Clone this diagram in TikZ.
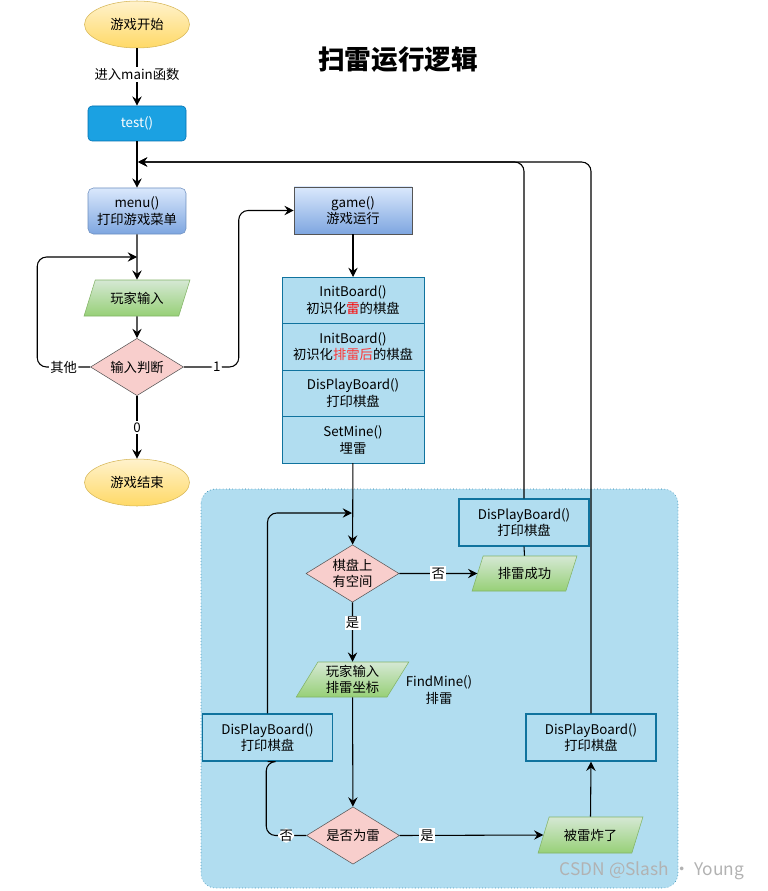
\documentclass[tikz,border=0pt]{standalone}
\usepackage{fontspec}
\setmainfont{Noto Sans CJK SC}
\usetikzlibrary{shapes.geometric, arrows.meta, positioning}
\definecolor{startline}{HTML}{D6B656}
\definecolor{starttop}{HTML}{FFF2CC}
\definecolor{startbot}{HTML}{FFD966}
\definecolor{testfill}{HTML}{1BA1E2}
\definecolor{testline}{HTML}{006EAF}
\definecolor{menutop}{HTML}{DAE8FC}
\definecolor{menubot}{HTML}{7EA6E0}
\definecolor{menuline}{HTML}{6C8EBF}
\definecolor{iotop}{HTML}{D5E8D4}
\definecolor{iobot}{HTML}{97D077}
\definecolor{ioline}{HTML}{82B366}
\definecolor{decfill}{HTML}{F8CECC}
\definecolor{decline}{HTML}{555555}
\definecolor{boxfill}{HTML}{B1DDF0}
\definecolor{boxline}{HTML}{10739E}
\tikzset{
    startstop/.style={ellipse, minimum width=78.75pt, minimum height=35.25pt, inner sep=0pt, draw=startline, top color=starttop, bottom color=startbot},
    testbox/.style={rectangle, rounded corners=3pt, minimum width=73.5pt, minimum height=26.25pt, draw=testline, fill=testfill, text=white},
    menubox/.style={rectangle, rounded corners=4pt, minimum width=73.5pt, minimum height=34.5pt, inner sep=0pt, align=center, draw=menuline, top color=menutop, bottom color=menubot},
    gamebox/.style={rectangle, minimum width=88.5pt, minimum height=35.25pt, inner sep=0pt, align=center, draw=decline, top color=menutop, bottom color=menubot},
    stackbox/.style={rectangle, minimum width=106.5pt, minimum height=34.875pt, inner sep=0pt, outer sep=0pt, align=center, draw=boxline, fill=boxfill},
    boardbox/.style={rectangle, minimum width=97.5pt, minimum height=35.25pt, inner sep=0pt, align=center, draw=boxline, line width=0.9pt, fill=boxfill},
    io/.style={trapezium, trapezium left angle=60, trapezium right angle=120, trapezium stretches=true, inner sep=0pt, align=center, draw=ioline, top color=iotop, bottom color=iobot},
    decision/.style={diamond, aspect=1.6, minimum width=69.75pt, minimum height=43pt, inner sep=0pt, align=center, draw=decline, fill=decfill},
    region/.style={draw=boxline, fill=boxfill, dotted, rounded corners=11pt},
    lbl/.style={fill=white, inner sep=1pt},
    link/.style={line width=0.8pt},
    arrow/.style={line width=0.8pt, ->}
}
\begin{document}
\begin{tikzpicture}[x=0.75pt, y=-0.75pt, font=\fontsize{10}{12.5}\selectfont, >={Stealth[length=7pt, width=7pt, inset=2.5pt]}]
    \useasboundingbox (0,0) rectangle (767,891);

    % mine sweeping area
    \draw [region] (201,489) rectangle (678,888);

    % main flow
    \node (start) [startstop] at (137,24.5) {游戏开始};
    \node (test) [testbox] at (137,123.5) {test()};
    \node (menu) [menubox] at (137,211) {menu()\\打印游戏菜单};
    \node (input) [io, minimum width=79.5pt, minimum height=27pt] at (137,298) {玩家输入};
    \node (judge) [decision] at (137,367) {输入判断};
    \node (finish) [startstop] at (137,482.5) {游戏结束};
    \node (title) at (398,60) {\bfseries\fontsize{20}{24}\selectfont 扫雷运行逻辑};

    % game() and its setup
    \node (game) [gamebox] at (353,210.5) {game()\\游戏运行};
    \node (init1) [stackbox] at (353,300.25) {InitBoard()\\初识化\textcolor{red}{雷}的棋盘};
    \node (init2) [stackbox, below=0pt of init1] {InitBoard()\\初识化\textcolor{red!80}{排雷后}的棋盘};
    \node (show) [stackbox, below=0pt of init2] {DisPlayBoard()\\打印棋盘};
    \node (setmine) [stackbox, below=0pt of show] {SetMine()\\埋雷};

    % inside the area
    \node (space) [decision] at (352.5,573.5) {棋盘上\\有空间};
    \node (win) [io, minimum width=78.75pt, minimum height=26.25pt] at (524.5,573.5) {排雷成功};
    \node (showwin) [boardbox] at (524,522.5) {DisPlayBoard()\\打印棋盘};
    \node (aim) [io, minimum width=84.75pt, minimum height=26.25pt] at (352.5,679.5) {玩家输入\\排雷坐标};
    \node (findmine) [align=center] at (439,690) {FindMine()\\排雷};
    \node (showleft) [boardbox] at (267.5,737.5) {DisPlayBoard()\\打印棋盘};
    \node (ismine) [decision] at (353,835.5) {是否为雷};
    \node (boom) [io, minimum width=78.75pt, minimum height=27pt] at (590.5,835) {被雷炸了};
    \node (showright) [boardbox] at (591,737.5) {DisPlayBoard()\\打印棋盘};
    \node (mark) [text=gray!60, font=\fontsize{13}{15}\selectfont] at (652,871) {CSDN @Slash · Young};

    \coordinate (back1) at (137,257);
    \coordinate (back2) at (138,162);
    \coordinate (back3) at (352,513);

    % Connections
    \draw [arrow] (start) -- node[lbl, pos=0.45] {进入main函数} (test);
    \draw [arrow] (test) -- (menu);
    \draw [arrow] (menu) -- (input);
    \draw [arrow] (input) -- (judge);
    \draw [arrow, rounded corners=7pt] (judge.west) -- node[lbl] {其他} ++(-53,0) |- (back1);
    \draw [arrow, rounded corners=7pt] (judge.east) -- node[lbl, pos=0.6] {1} ++(55,0) |- (game.west);
    \draw [arrow] (judge) -- node[lbl] {0} (finish);
    \draw [arrow] (game) -- (init1);
    \draw [arrow] (setmine) -- (space);
    \draw [arrow] (space.east) -- node[lbl] {否} (win.west);
    \draw [arrow] (space) -- node[lbl, pos=0.35] {是} (aim);
    \draw [arrow] (aim) -- (ismine);
    \draw [arrow] (ismine.east) -- node[lbl, pos=0.19] {是} (boom.west);
    \draw [link, rounded corners=7pt] (ismine.west) -- node[lbl] {否} ++(-40,0) |- (showleft.south);
    \draw [arrow, rounded corners=7pt] (showleft.north) |- (back3);
    \draw [arrow] (boom.north) -- (showright.south);
    \draw [arrow, rounded corners=7pt] (showright.north) |- (back2);
    \draw [link] (win.north) -- (showwin.south);
    \draw [arrow, rounded corners=7pt] (showwin.north) |- (back2);

\end{tikzpicture}
\end{document}
